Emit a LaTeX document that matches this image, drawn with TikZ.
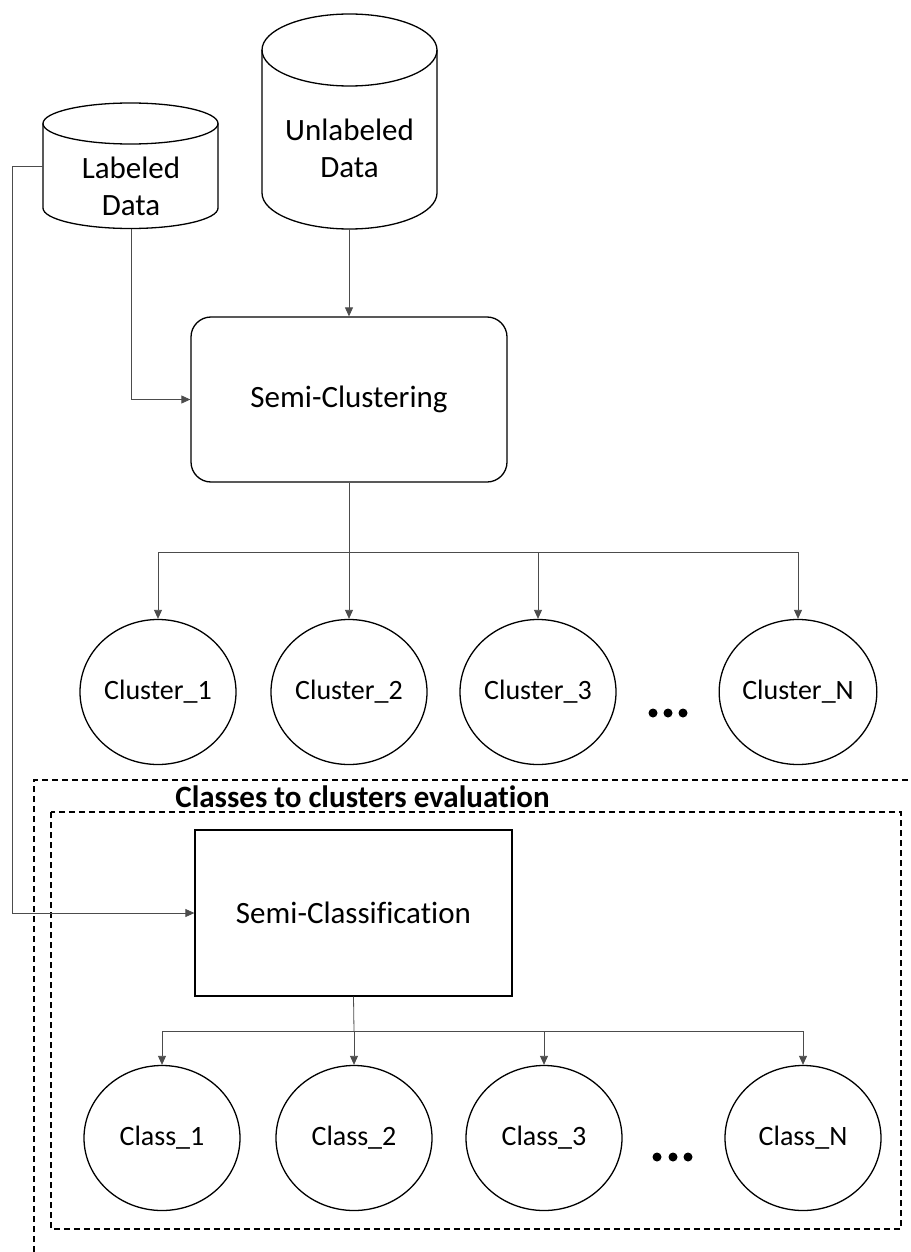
\documentclass[tikz,border=0pt]{standalone}
\usepackage{fontspec}
\setmainfont{Carlito}[Ligatures=NoCommon]
\usetikzlibrary{arrows.meta,shapes.geometric}
\begin{document}
\begin{tikzpicture}[x=1pt,y=-1pt,
  shp/.style={draw=black,line width=1.3pt},
  big/.style={font=\fontsize{31}{37}\selectfont,align=center},
  mid/.style={font=\fontsize{28}{32}\selectfont},
  rbox/.style={shp,rounded corners=20pt,minimum width=316pt,minimum height=165pt,big,inner sep=0pt},
  sbox/.style={shp,minimum width=317pt,minimum height=166pt,big,inner sep=0pt},
  circ/.style={shp,ellipse,minimum width=156pt,minimum height=145pt,inner sep=0pt,mid},
  conn/.style={draw=black!70,line width=0.8pt,-{Triangle[length=9pt,width=8pt]}},
  plain/.style={draw=black!70,line width=0.8pt},
  dsh/.style={draw=black,line width=1.4pt,dash pattern=on 6pt off 4pt},
  dot/.style={fill=black}]
\useasboundingbox (0,0) rectangle (910,1252);

% Labeled Data cylinder
\draw[shp] (43,123.5) -- (43,208) arc[start angle=180,end angle=0,x radius=87.5,y radius=20.5] -- (218,123.5);
\draw[shp] (130.5,123.5) ellipse[x radius=87.5,y radius=20.5];
\node[big] (lab) at (131,186) {Labeled\\Data};
\coordinate (labB) at (131,228.5);
\coordinate (labL) at (43,166);

% Unlabeled Data cylinder
\draw[shp] (262,50) -- (262,193) arc[start angle=180,end angle=0,x radius=87.5,y radius=36] -- (437,50);
\draw[shp] (349.5,50) ellipse[x radius=87.5,y radius=36];
\node[big] (unl) at (349.5,148) {Unlabeled\\Data};
\coordinate (unlB) at (349,229);

% Semi-Clustering
\node[rbox] (sc) at (349,399.5) {Semi-Clustering};
\draw[conn] (labB) |- (sc.west);
\draw[conn] (unlB) -- (sc.north);

% Clusters
\node[circ] (c1) at (158,692) {Cluster\_1};
\node[circ] (c2) at (349,692) {Cluster\_2};
\node[circ] (c3) at (538,692) {Cluster\_3};
\node[circ] (cN) at (798,692) {Cluster\_N};
\coordinate (j1) at (349,552);
\draw[plain] (sc.south) -- (j1);
\draw[conn] (j1) -| (c1.north);
\draw[conn] (j1) -- (c2.north);
\draw[conn] (j1) -| (c3.north);
\draw[conn] (j1) -| (cN.north);
\fill[dot] (653,713) circle (4.5) (668,713) circle (4.5) (683,713) circle (4.5);

% Dashed regions
\draw[dsh] (34,1252) -- (34,780) -- (912,780);
\node[font=\fontsize{31}{36}\selectfont\bfseries] (title) at (362.5,797) {Classes to clusters evaluation};
\draw[dsh] (51,812) rectangle (901,1229);

% Semi-Classification
\node[sbox] (scl) at (353.5,913) {Semi-Classification};
\coordinate (lp) at (12,166);
\draw[conn] (labL) -- (lp) |- (scl.west);

% Classes
\node[circ] (k1) at (162,1138) {Class\_1};
\node[circ] (k2) at (354,1138) {Class\_2};
\node[circ] (k3) at (544,1138) {Class\_3};
\node[circ] (kN) at (803,1138) {Class\_N};
\coordinate (j2) at (354,1031);
\draw[plain] (scl.south) -- (j2);
\draw[conn] (j2) -| (k1.north);
\draw[conn] (j2) -- (k2.north);
\draw[conn] (j2) -| (k3.north);
\draw[conn] (j2) -| (kN.north);
\fill[dot] (657,1157) circle (4.5) (673,1157) circle (4.5) (688,1157) circle (4.5);
\end{tikzpicture}
\end{document}
